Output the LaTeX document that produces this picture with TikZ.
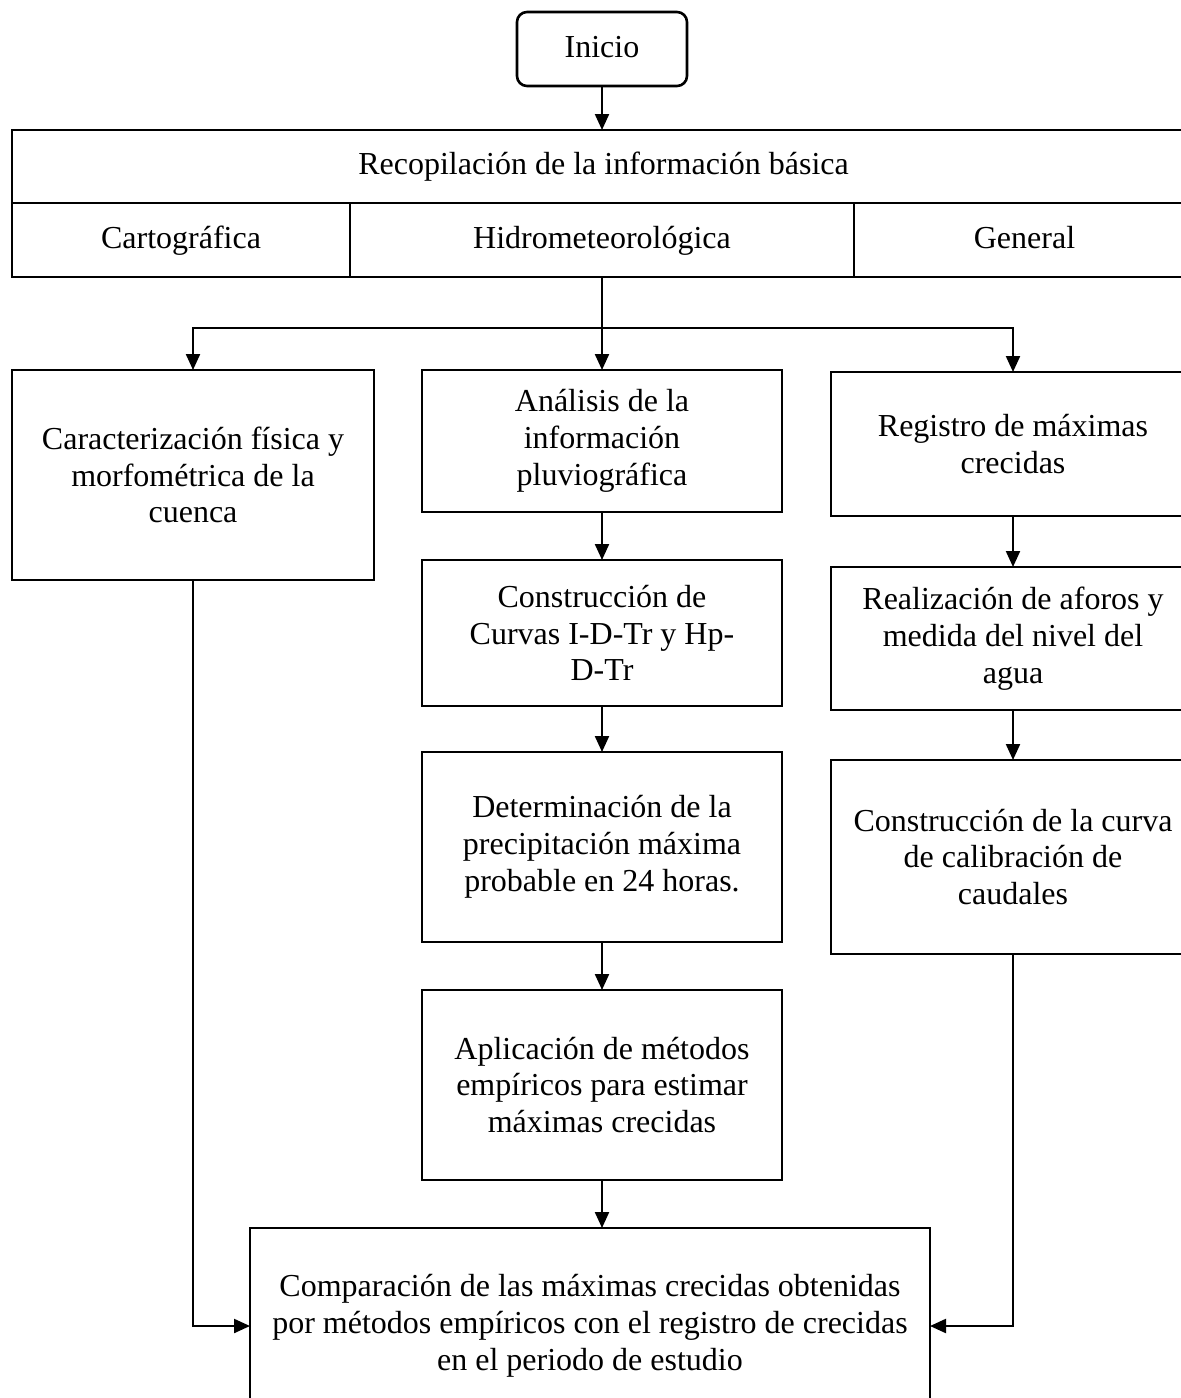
\documentclass[tikz,border=0pt]{standalone}
\usepackage{fontspec}
\setmainfont{Liberation Serif}
\usetikzlibrary{arrows.meta}
\newcommand{\pxbox}[7][]{%
  \node[boxst,#1,minimum width={(#4-#3)*0.5pt},minimum height={(#6-#5)*0.5pt}]
    (#2) at ({(#3+#4)/2},{(#5+#6)/2}) {#7};}
\begin{document}
\begin{tikzpicture}[x=0.5pt,y=-0.5pt,
  boxst/.style={draw,line width=1.3pt,inner sep=0pt,outer sep=0pt,align=center,
    font=\fontsize{16}{18.4}\selectfont},
  cell/.style={text height=11.5pt,text depth=3.5pt},
  arr/.style={line width=1.1pt,-{Triangle[length=8pt,width=7pt]}},
  ln/.style={line width=0.7pt}]
\clip (0,0) rectangle (1181,1398);
\fill[white] (0,0) rectangle (1181,1398);
% start
\pxbox[rounded corners=5pt,cell]{ini}{517}{687}{12}{86}{Inicio}
% table
\pxbox[cell]{rec}{12}{1195}{130}{203}{Recopilación de la información básica}
\pxbox[cell]{cart}{12}{350}{203}{277}{Cartográfica}
\pxbox[cell]{hid}{350}{854}{203}{277}{Hidrometeorológica}
\pxbox[cell]{gen}{854}{1195}{203}{277}{General}
% columns
\pxbox{car}{12}{374}{370}{580}{Caracterización física y\\morfométrica de la\\cuenca}
\pxbox{ana}{422}{782}{370}{512}{Análisis de la\\información\\pluviográfica}
\pxbox{con}{422}{782}{560}{706}{Construcción de\\Curvas I-D-Tr y Hp-\\D-Tr}
\pxbox{det}{422}{782}{752}{942}{Determinación de la\\precipitación máxima\\probable en 24 horas.}
\pxbox{apl}{422}{782}{990}{1180}{Aplicación de métodos\\empíricos para estimar\\máximas crecidas}
\pxbox{reg}{831}{1195}{372}{516}{Registro de máximas\\crecidas}
\pxbox{rea}{831}{1195}{567}{710}{Realización de aforos y\\medida del nivel del\\agua}
\pxbox{cal}{831}{1195}{760}{954}{Construcción de la curva\\de calibración de\\caudales}
\pxbox{cmp}{250}{930}{1228}{1424}{Comparación de las máximas crecidas obtenidas\\por métodos empíricos con el registro de crecidas\\en el periodo de estudio}
% connectors
\draw[arr] (ini.south) -- (ini.south |- rec.north);
\coordinate (jn) at (602,328);
\draw[ln] (hid.south) -- (jn);
\draw[arr] (jn) -| (car.north);
\draw[arr] (jn) -- (ana.north);
\draw[arr] (jn) -| (reg.north);
\draw[arr] (ana.south) -- (con.north);
\draw[arr] (con.south) -- (det.north);
\draw[arr] (det.south) -- (apl.north);
\draw[arr] (apl.south) -- (apl.south |- cmp.north);
\draw[arr] (reg.south) -- (rea.north);
\draw[arr] (rea.south) -- (cal.north);
\draw[arr] (car.south) |- (cmp.west);
\draw[arr] (cal.south) |- (cmp.east);
\end{tikzpicture}
\end{document}
